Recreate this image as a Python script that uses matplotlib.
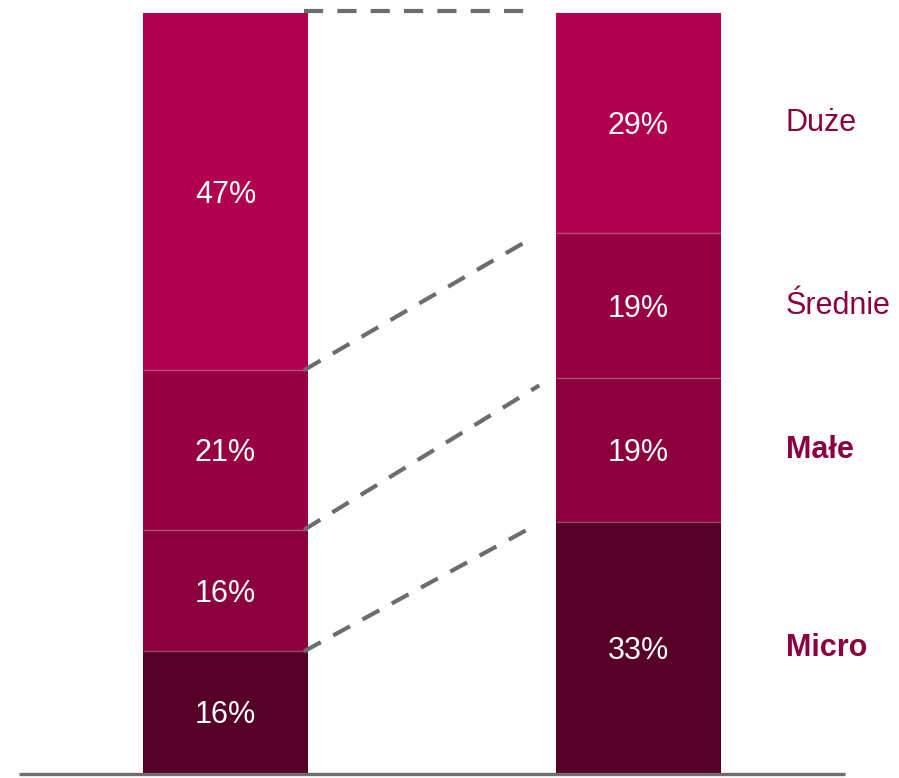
import numpy as np
import matplotlib.pyplot as plt

plt.rcParams['font.family'] = ['Liberation Sans', 'DejaVu Sans']

# udział segmentów (od dołu): Micro, Małe, Średnie, Duże
segmenty = ['Micro', 'Małe', 'Średnie', 'Duże']
lewy = [16, 16, 21, 47]
prawy = [33, 19, 19, 29]
kolory = ['#560028', '#8b003d', '#970042', '#b0004f']
pogrubione = [True, True, False, False]

fig = plt.figure(figsize=(8.99, 7.78), dpi=100)
ax = fig.add_axes([0, 0, 1, 1])

szer = 0.4
for x, wart in [(0, lewy), (1, prawy)]:
    dol = 0
    for v, c in zip(wart, kolory):
        ax.bar(x, v, bottom=dol, width=szer, color=c, linewidth=0)
        ax.text(x, dol + v / 2 - 0.4, f'{v}%', color='white', fontsize=22,
                ha='center', va='center')
        dol += v
    # cienkie jasne linie między segmentami
    ax.hlines(np.cumsum(wart)[:-1], x - szer / 2, x + szer / 2,
              color=(1, 1, 1, 0.3), lw=1)

# linie przerywane łączące granice segmentów
cum_l = np.cumsum(lewy)
cum_p = np.cumsum(prawy)
konce = [0.73, 0.76, 0.73]
for yl, yp, xk in zip(cum_l[:-1], cum_p[:-1], konce):
    ax.plot([0.19, xk], [yl, yp - 1], color='#6d6d6d', lw=3,
            dashes=(4.6, 3.4), dash_capstyle='butt')
ax.plot([0.19, 0.725], [100.2, 100.2], color='#6d6d6d', lw=3,
        dashes=(4.6, 3.4), dash_capstyle='butt')

# podpisy segmentów po prawej
dol = 0
for nazwa, v, b in zip(segmenty, prawy, pogrubione):
    ax.text(1.357, dol + v / 2, nazwa, color='#8b0040', fontsize=22,
            ha='left', va='center', fontweight='bold' if b else 'normal')
    dol += v

# oś pozioma
ax.plot([-0.5, 1.5], [-0.15, -0.15], color='#6f6f6f', lw=2.4,
        solid_capstyle='butt')

ax.set_xlim(-0.546, 1.631)
ax.set_ylim(-0.658, 101.71)
ax.axis('off')

fig.savefig('out.png', dpi=100, facecolor='white')
